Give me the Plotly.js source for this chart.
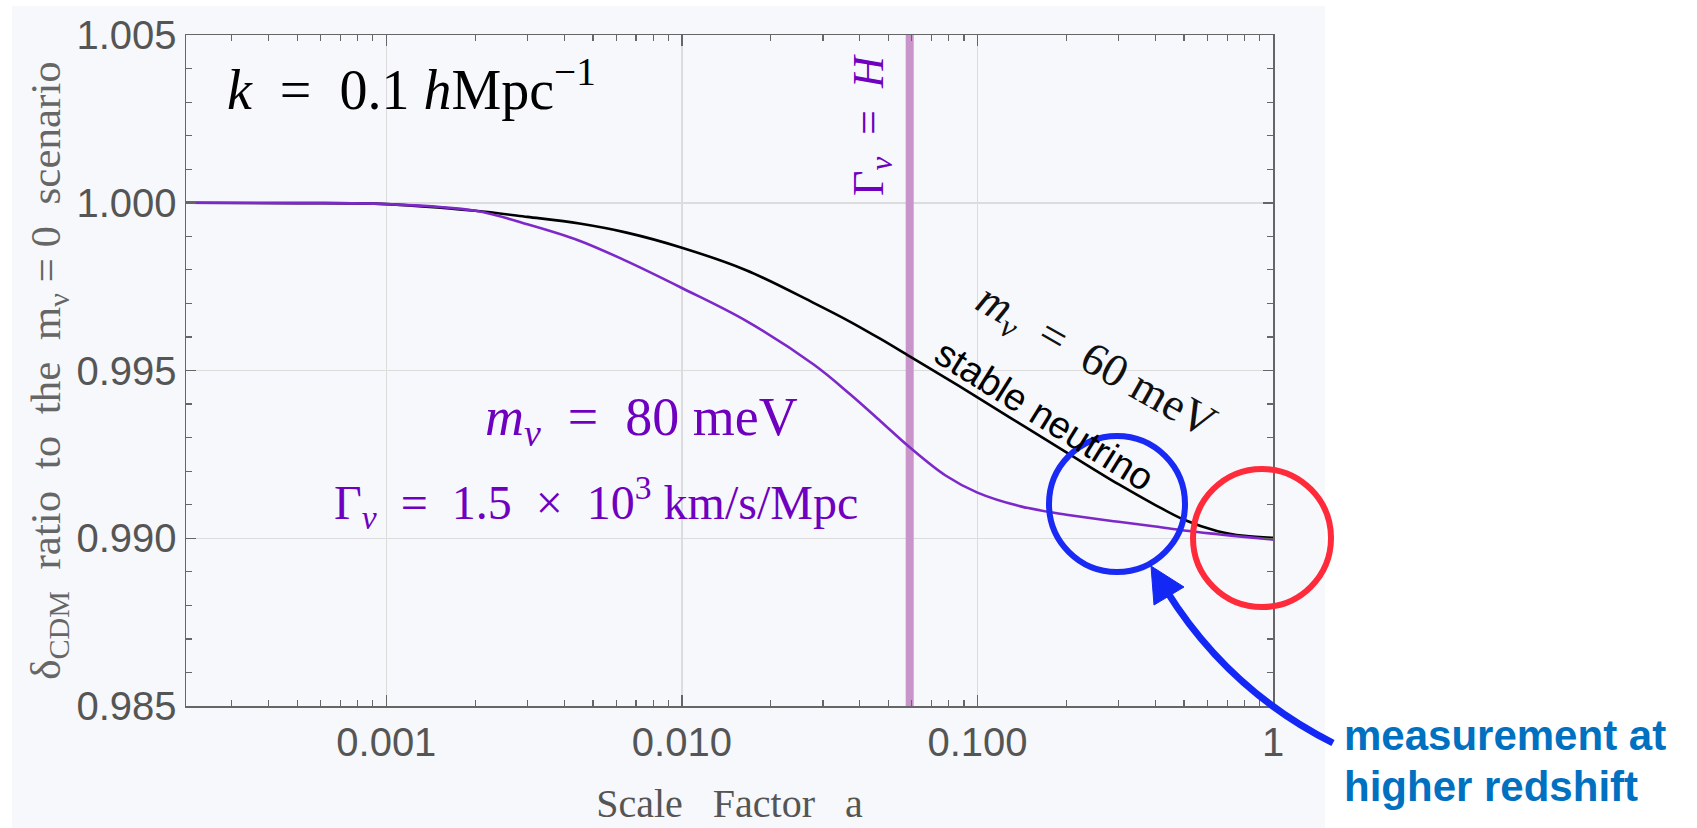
<!DOCTYPE html>
<html>
<head>
<meta charset="utf-8">
<script src="https://cdn.plot.ly/plotly-3.0.1.min.js"></script>
<style>
  html, body { margin: 0; padding: 0; background: #ffffff; }
  #chart { width: 1697px; height: 828px; }
</style>
</head>
<body>
<div id="chart"></div>
<script>
// ---- data ----
const scaleFactor = [0.00021, 0.0005, 0.001, 0.002, 0.003, 0.0045, 0.0065, 0.01, 0.0165, 0.028, 0.037, 0.047, 0.059, 0.078, 0.1, 0.14, 0.2, 0.3, 0.4, 0.5, 0.65, 0.8, 1.0];
const stable60meV = [1.00000, 0.99999, 0.99996, 0.99976, 0.99958, 0.99938, 0.99911, 0.99866, 0.99799, 0.99701, 0.99646, 0.99594, 0.99542, 0.99478, 0.99420, 0.99340, 0.99256, 0.99161, 0.99099, 0.99055, 0.99021, 0.99007, 0.99001];
const decaying80meV = [1.00000, 0.99999, 0.99996, 0.99976, 0.99936, 0.99887, 0.99826, 0.99746, 0.99648, 0.99517, 0.99430, 0.99349, 0.99271, 0.99187, 0.99136, 0.99095, 0.99070, 0.99049, 0.99035, 0.99023, 0.99012, 0.99004, 0.98996];
const gammaEqualsH = 0.059;           // scale factor where Gamma_nu = H
const yRange = [0.985, 1.005];
const xTickVals = [0.001, 0.01, 0.1, 1];
const xTickText = ["0.001", "0.010", "0.100", "1"];
const xMinorTicks = [0.0003, 0.0004, 0.0005, 0.0006, 0.0007, 0.0008, 0.0009,
                     0.002, 0.003, 0.004, 0.005, 0.006, 0.007, 0.008, 0.009,
                     0.02, 0.03, 0.04, 0.05, 0.06, 0.07, 0.08, 0.09,
                     0.2, 0.3, 0.4, 0.5, 0.6, 0.7, 0.8, 0.9];

// ---- layout geometry (pixels) ----
const W = 1697, H = 828;
const M = {l: 186, r: 424, t: 35, b: 122};
const PW = W - M.l - M.r, PH = H - M.t - M.b;
const px = x => (x - M.l) / PW;
const py = y => (H - M.b - y) / PH;

const purpleText = '#7000c0';
const purpleLine = '#7d28c8';
const serif = 'Liberation Serif, Times New Roman, serif';
const sans = 'Liberation Sans, Arial, sans-serif';
const NB = '\u00a0';
const EN = '\u2002';

const traces = [
  {
    x: [gammaEqualsH, gammaEqualsH], y: yRange,
    mode: 'lines', line: {color: '#c994c9', width: 8},
    hoverinfo: 'skip', showlegend: false
  },
  {
    x: scaleFactor, y: stable60meV, name: 'stable neutrino, m = 60 meV',
    mode: 'lines', line: {color: '#000000', width: 2.6, shape: 'spline', smoothing: 1},
    showlegend: false
  },
  {
    x: scaleFactor, y: decaying80meV, name: 'decaying, m = 80 meV',
    mode: 'lines', line: {color: purpleLine, width: 2.6, shape: 'spline', smoothing: 1},
    showlegend: false
  }
];

const arrowBlue = '#1428f5';

function note(x, y, text, font, extra) {
  return Object.assign({xref: 'paper', yref: 'paper', x: px(x), y: py(y), showarrow: false,
    xanchor: 'center', yanchor: 'middle', text: text, font: font}, extra || {});
}

const layout = {
  width: W, height: H,
  margin: M,
  paper_bgcolor: '#ffffff',
  plot_bgcolor: 'rgba(0,0,0,0)',
  showlegend: false,
  xaxis: {
    type: 'log',
    range: [Math.log10(scaleFactor[0]), 0],
    tickmode: 'array', tickvals: xTickVals, ticktext: xTickText,
    ticks: 'inside', ticklen: 11, tickwidth: 1.5, tickcolor: '#666',
    showline: true, linecolor: '#666', linewidth: 1.5, mirror: 'ticks',
    showgrid: true, gridcolor: '#dcdcdc', gridwidth: 1.5, zeroline: false,
    tickfont: {family: sans, size: 40, color: '#555'},
    minor: {tickmode: 'array', tickvals: xMinorTicks, ticks: 'inside', ticklen: 6, tickwidth: 1.2, tickcolor: '#666', showgrid: false},
    title: {text: 'Scale' + NB + NB + ' Factor' + NB + NB + ' a', font: {family: serif, size: 40, color: '#555'}, standoff: 26}
  },
  yaxis: {
    range: yRange,
    tick0: 0.985, dtick: 0.005, tickformat: '.3f',
    ticks: 'inside', ticklen: 10, tickwidth: 1.5, tickcolor: '#666',
    showline: true, linecolor: '#666', linewidth: 1.5, mirror: 'ticks',
    showgrid: true, gridcolor: '#dcdcdc', gridwidth: 1.5, zeroline: false,
    tickfont: {family: sans, size: 40, color: '#555'},
    minor: {dtick: 0.001, ticks: 'inside', ticklen: 6, tickwidth: 1.2, tickcolor: '#666', showgrid: false},
    title: {text: 'δ<sub>CDM</sub>' + NB + ' ratio' + NB + ' to' + NB + ' the' + NB + ' m<sub>ν</sub> = 0' + NB + ' scenario',
            font: {family: serif, size: 43, color: '#666'}, standoff: 2}
  },
  shapes: [
    {type: 'rect', xref: 'paper', yref: 'paper', x0: px(12), x1: px(1325), y0: py(828), y1: py(6),
     fillcolor: '#f6f8fb', line: {width: 0}, layer: 'below'},
    {type: 'circle', xref: 'paper', yref: 'paper', xsizemode: 'pixel', ysizemode: 'pixel',
     xanchor: px(1117), yanchor: py(504), x0: -68, x1: 68, y0: -68, y1: 68,
     line: {color: '#1a2af5', width: 6}},
    {type: 'circle', xref: 'paper', yref: 'paper', xsizemode: 'pixel', ysizemode: 'pixel',
     xanchor: px(1262), yanchor: py(538), x0: -69, x1: 69, y0: -69, y1: 69,
     line: {color: '#ff2b3b', width: 6}},
    {type: 'path', xref: 'paper', yref: 'paper',
     path: `M ${px(1333)},${py(743)} Q ${px(1228)},${py(690)} ${px(1166)},${py(590)}`,
     line: {color: arrowBlue, width: 7}},
    {type: 'path', xref: 'paper', yref: 'paper',
     path: `M ${px(1151)},${py(566)} L ${px(1184)},${py(587)} L ${px(1154)},${py(605)} Z`,
     fillcolor: arrowBlue, line: {color: arrowBlue, width: 1}}
  ],
  annotations: [
    note(411, 86, '<i>k</i>' + EN + '=' + EN + '0.1 <i>h</i>Mpc<sup>−1</sup>', {family: serif, size: 56, color: '#000'}),
    note(872, 125, 'Γ<sub><i>ν</i></sub>' + EN + '=' + EN + '<i>H</i>', {family: serif, size: 44, color: purpleText}, {textangle: -90}),
    note(641, 420, '<i>m<sub>ν</sub></i>' + EN + '=' + EN + '80 meV', {family: serif, size: 54, color: purpleText}),
    note(596, 503, 'Γ<sub><i>ν</i></sub>' + EN + '=' + EN + '1.5' + EN + '×' + EN + '10<sup>3</sup> km/s/Mpc', {family: serif, size: 48, color: purpleText}),
    note(1095, 363, '<i>m<sub>ν</sub></i>' + EN + '=' + EN + '60 meV', {family: serif, size: 46, color: '#111'}, {textangle: 29.5}),
    note(1044, 415, 'stable neutrino', {family: sans, size: 38, color: '#000'}, {textangle: 32}),
    note(1342, 735, '<b>measurement at</b>', {family: sans, size: 42, color: '#0070c0'}, {xanchor: 'left'}),
    note(1342, 786, '<b>higher redshift</b>', {family: sans, size: 42, color: '#0070c0'}, {xanchor: 'left'})
  ]
};

Plotly.newPlot('chart', traces, layout, {staticPlot: true, displayModeBar: false});
</script>
</body>
</html>
